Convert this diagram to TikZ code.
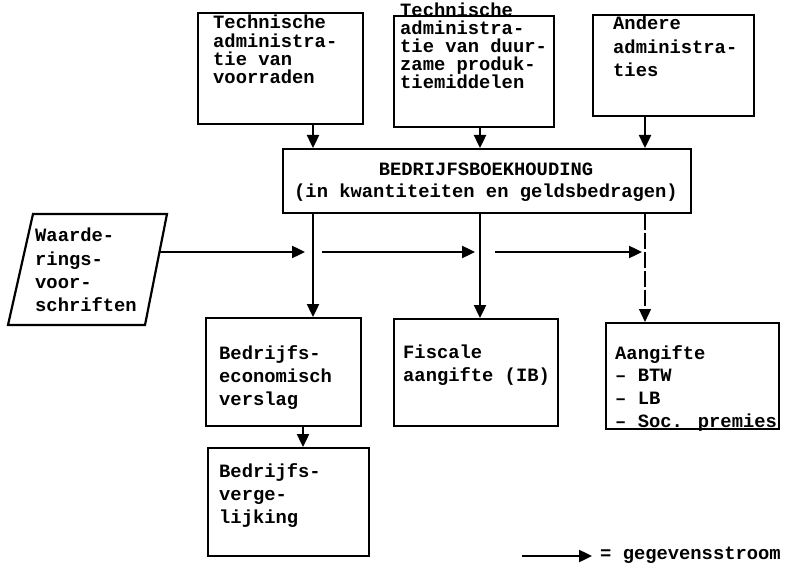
\documentclass[tikz,border=0pt]{standalone}
\usepackage{fontspec}
\newfontfamily\tw{Liberation Mono}
\usetikzlibrary{arrows.meta}
\begin{document}
\begin{tikzpicture}[x=1pt,y=-1pt,
  box/.style={draw, line width=2.2pt, inner sep=0pt, anchor=north west},
  lbl/.style={anchor=north west, inner sep=0pt, align=left, font=\tw\bfseries\fontsize{18.8pt}{#1pt}\selectfont},
  clbl/.style={anchor=north, inner sep=0pt, align=center, font=\tw\bfseries\fontsize{18.8pt}{#1pt}\selectfont},
  arr/.style={line width=2.4pt, -{Triangle[length=13pt,width=12pt]}},
  thinarr/.style={line width=1.2pt, dash pattern=on 16pt off 3pt, -{Triangle[length=13pt,width=12pt]}}]
\useasboundingbox (0,0) rectangle (792,569);

% boxes
\node[box, minimum width=165pt, minimum height=111pt] (b1) at (197,12) {};
\node[box, minimum width=160pt, minimum height=111pt] (b2) at (393,15) {};
\node[box, minimum width=161pt, minimum height=101pt] (b3) at (592,14) {};
\node[box, minimum width=408pt, minimum height=64pt] (bk) at (282,148) {};
\node[box, minimum width=155pt, minimum height=108pt] (bev) at (205,317) {};
\node[box, minimum width=164pt, minimum height=107pt] (fis) at (393,318) {};
\node[box, minimum width=173pt, minimum height=106pt] (aan) at (605,322) {};
\node[box, minimum width=161pt, minimum height=108pt] (verg) at (207,447) {};

% parallelogram
\coordinate (p1) at (33,214);
\coordinate (p2) at (167,214);
\coordinate (p3) at (145,325);
\coordinate (p4) at (8,325);
\draw[line width=2.2pt] (p1) -- (p2) -- (p3) -- (p4) -- cycle;

% texts
\node[lbl=18.3] (t1) at (213,15) {Technische\\administra-\\tie van\\voorraden};
\node[lbl=18] (t2) at (400,3) {Technische\\administra-\\tie van duur-\\zame produk-\\tiemiddelen};
\node[lbl=23.3] (t3) at (613,16) {Andere\\administra-\\ties};
\node[clbl=22] (tk) at (486,163) {BEDRIJFSBOEKHOUDING\\(in kwantiteiten en geldsbedragen)};
\node[lbl=23.3] (tw) at (35,228) {Waarde-\\rings-\\voor-\\schriften};
\node[lbl=23] (tbev) at (219,345) {Bedrijfs-\\economisch\\verslag};
\node[lbl=23] (tfis) at (403,345) {Fiscale\\aangifte (IB)};
\node[lbl=22.7] (taan) at (615,345) {Aangifte\\– BTW\\– LB\\– Soc. premies};
\node[lbl=23] (tverg) at (219,463) {Bedrijfs-\\verge-\\lijking};

% vertical connectors
\coordinate (x1) at (313,0);
\coordinate (x2) at (480,0);
\coordinate (x3) at (645,0);
\coordinate (xv) at (303,0);
\draw[arr] (b1.south -| x1) -- (bk.north -| x1);
\draw[arr] (b2.south -| x2) -- (bk.north -| x2);
\draw[arr] (b3.south -| x3) -- (bk.north -| x3);
\draw[arr] (bk.south -| x1) -- (bev.north -| x1);
\draw[arr] (bk.south -| x2) -- (fis.north -| x2);
\draw[thinarr] (bk.south -| x3) -- (aan.north -| x3);
\draw[arr] (bev.south -| xv) -- (verg.north -| xv);

% horizontal arrows
\coordinate (pe) at (160,252);
\coordinate (h1) at (305,252);
\coordinate (h2s) at (322,252);
\coordinate (h2e) at (475,252);
\coordinate (h3s) at (495,252);
\coordinate (h3e) at (642,252);
\draw[arr] (pe) -- (h1);
\draw[arr] (h2s) -- (h2e);
\draw[arr] (h3s) -- (h3e);

% legend
\coordinate (lg1) at (522,556);
\coordinate (lg2) at (592,556);
\draw[arr] (lg1) -- (lg2);
\node[anchor=west, inner sep=0pt, font=\tw\bfseries\fontsize{18.8pt}{22pt}\selectfont] (leg) at (600,555) {= gegevensstroom};
\end{tikzpicture}
\end{document}
